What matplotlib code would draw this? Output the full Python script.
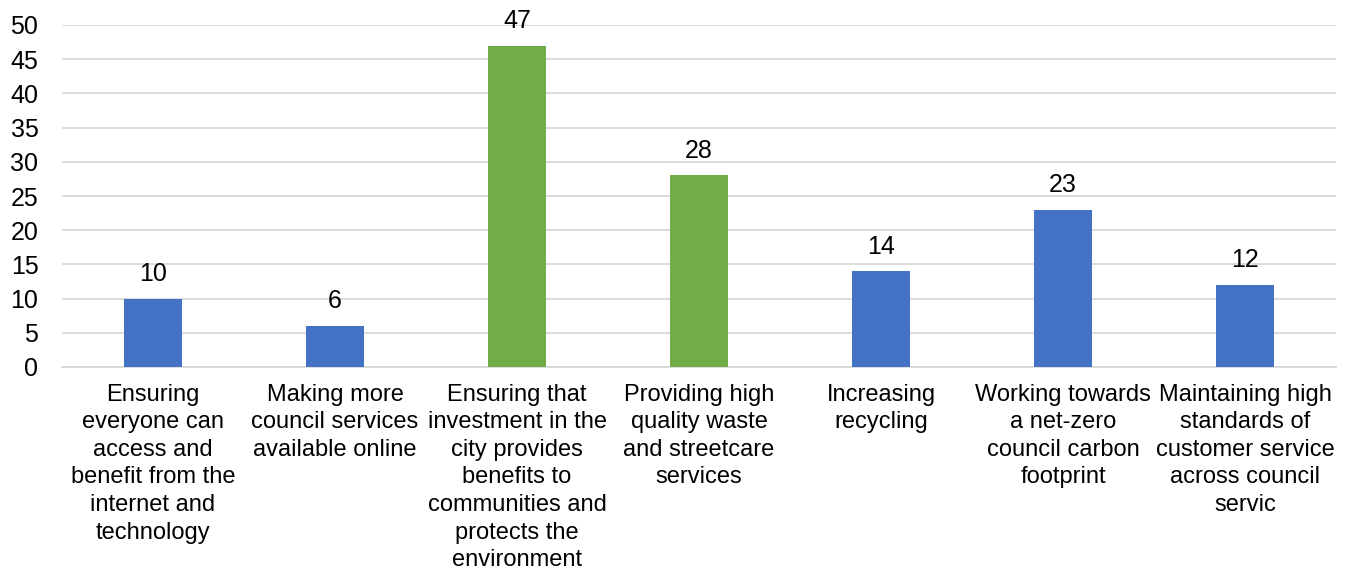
import matplotlib
matplotlib.use("Agg")
import matplotlib.pyplot as plt

categories = [
    "Ensuring\neveryone can\naccess and\nbenefit from the\ninternet and\ntechnology",
    "Making more\ncouncil services\navailable online",
    "Ensuring that\ninvestment in the\ncity provides\nbenefits to\ncommunities and\nprotects the\nenvironment",
    "Providing high\nquality waste\nand streetcare\nservices",
    "Increasing\nrecycling",
    "Working towards\na net-zero\ncouncil carbon\nfootprint",
    "Maintaining high\nstandards of\ncustomer service\nacross council\nservic",
]
values = [10, 6, 47, 28, 14, 23, 12]
bar_colors = ["#4472C4", "#4472C4", "#70AD47", "#70AD47", "#4472C4", "#4472C4", "#4472C4"]
yticks = [0, 5, 10, 15, 20, 25, 30, 35, 40, 45, 50]

plt.rcParams['font.family'] = ['Liberation Sans', 'DejaVu Sans']

fig = plt.figure(figsize=(13.45, 5.71), dpi=100)
ax = fig.add_axes([62/1345, 1-367/571, (1336-62)/1345, (367-25)/571])

x = list(range(len(values)))
bars = ax.bar(x, values, width=0.32, color=bar_colors, zorder=3)
for xi, v in zip(x, values):
    ax.annotate(str(v), (xi, v), xytext=(0, 9), textcoords='offset points',
                ha='center', va='bottom', fontsize=18, color='#000000')

ax.set_xlim(-0.5, len(values) - 0.5)
ax.set_ylim(0, 50)
ax.set_yticks(yticks)
ax.set_yticklabels([str(t) for t in yticks], fontsize=18)
ax.set_xticks(x)
ax.set_xticklabels(categories, fontsize=17, linespacing=1.33)
ax.tick_params(axis='both', length=0)
ax.tick_params(axis='y', pad=17)
ax.tick_params(axis='x', pad=12)
ax.grid(axis='y', color='#D9D9D9', linewidth=1.3, zorder=0)
for s in ['top', 'right', 'left']:
    ax.spines[s].set_visible(False)
ax.spines['bottom'].set_color('#D9D9D9')
ax.spines['bottom'].set_linewidth(1.3)

fig.savefig("out.png", dpi=100)
